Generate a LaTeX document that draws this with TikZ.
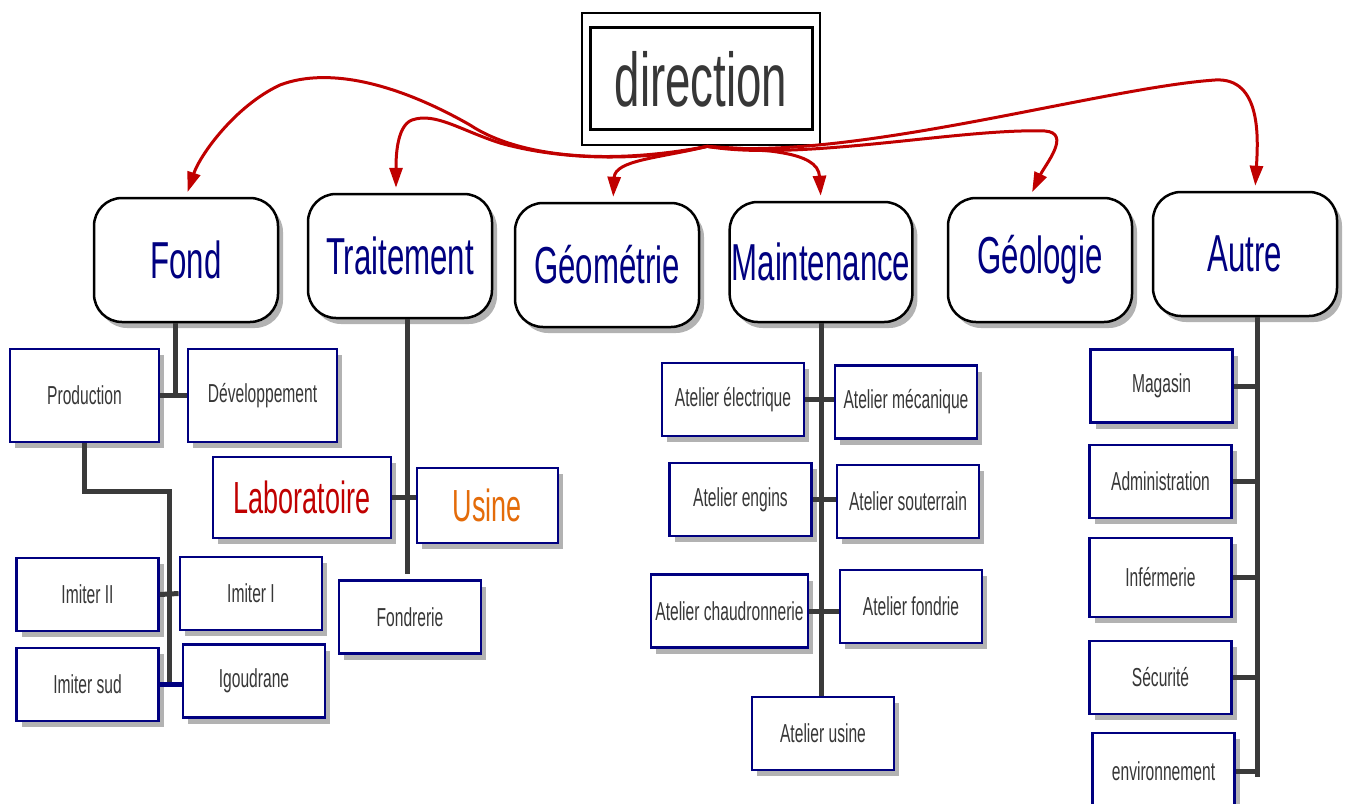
\documentclass[tikz,border=0pt]{standalone}
\usepackage{fontspec}
\setmainfont{Liberation Sans}[FakeStretch=0.6]
\usetikzlibrary{arrows.meta,shadows,calc}
\definecolor{boxblue}{RGB}{0,0,128}
\definecolor{linkgray}{RGB}{58,58,58}
\definecolor{arrred}{RGB}{192,0,0}
\definecolor{txtgray}{RGB}{55,55,55}
\definecolor{usineorange}{RGB}{228,108,10}
\begin{document}
\begin{tikzpicture}[x=1pt,y=-1pt,>={Triangle[length=20pt,width=13pt]},
    boxshadow/.style={drop shadow={shadow xshift=5pt,shadow yshift=-6pt,fill=black,opacity=.3}},
    headbox/.style={draw=black,line width=2.5pt,fill=white,rounded corners=28pt,minimum width=184pt,minimum height=124pt,inner sep=2pt,text=boxblue,font=\fontsize{52}{56}\selectfont,boxshadow},
    unitbox/.style={draw=boxblue,line width=2.8pt,fill=white,minimum width=142pt,minimum height=73pt,inner sep=2pt,text=txtgray,font=\fontsize{26}{30}\selectfont,boxshadow},
    linkline/.style={draw=linkgray,line width=5pt},
    dirarrow/.style={->,draw=arrred,line width=3pt,shorten >=5pt}]
    \useasboundingbox (0,0) rectangle (1346,803);\clip (0,0) rectangle (1346,803);
    \fill[white] (0,0) rectangle (1346,803);
    \node[draw,line width=2.8pt,fill=white,minimum width=238pt,minimum height=132pt,text=txtgray,font=\fontsize{76}{80}\selectfont] (dir) at (701,79) {direction};
    \draw[line width=2.8pt] ([shift={(10pt,-16pt)}]dir.north west) rectangle ([shift={(-9pt,17pt)}]dir.south east);
    \coordinate (src) at ([xshift=6pt]dir.south);
    \node[headbox] (fond) at (186,260) {Fond};
    \node[headbox] (trait) at (400,256) {Traitement};
    \node[headbox] (geom) at (607,265) {Géométrie};
    \node[headbox,minimum width=181pt,minimum height=120pt] (maint) at (821,262) {Maintenance};
    \node[headbox] (geol) at (1040,260) {Géologie};
    \node[headbox] (autre) at (1245,254) {Autre};
    \draw[dirarrow] (src) .. controls (610,165) and (520,158) .. (470,125) .. controls (400,85) and (330,66) .. (280,85) .. controls (235,106) and (200,155) .. (fond.north);
    \draw[dirarrow] (src) .. controls (640,162) and (560,160) .. (500,143) .. controls (460,130) and (435,112) .. (412,120) .. controls (396,126) and (396,160) .. ([xshift=-4pt]trait.north);
    \draw[dirarrow] (src) .. controls (660,158) and (615,160) .. ([xshift=6pt]geom.north);
    \draw[dirarrow] (src) .. controls (760,150) and (818,150) .. (maint.north);
    \draw[dirarrow] (src) .. controls (800,162) and (960,128) .. (1045,131) .. controls (1072,133) and (1045,165) .. ([xshift=-10pt]geol.north);
    \draw[dirarrow] (src) .. controls (850,162) and (1100,88) .. (1215,80) .. controls (1262,77) and (1258,140) .. ([xshift=10pt]autre.north);
    \node[unitbox,minimum width=149pt,minimum height=93pt] (prod) at (84.5,395.5) {Production};
    \node[unitbox,minimum width=149pt,minimum height=93pt] (dev) at (262.5,395.5) {Développement};
    \node[unitbox] (imII) at (87.5,594.5) {Imiter II};
    \node[unitbox] (imI) at (251,593.5) {Imiter I};
    \node[unitbox] (imsud) at (87.5,684.5) {Imiter sud};
    \node[unitbox] (igou) at (254,681) {Igoudrane};
    \node[unitbox,minimum width=178pt,minimum height=81pt,text=arrred,font=\fontsize{45}{50}\selectfont] (labo) at (302,497.5) {Laboratoire};
    \node[unitbox,minimum width=141pt,minimum height=75pt,text=usineorange,font=\fontsize{45}{50}\selectfont] (usine) at (487.5,505.5) {Usine};
    \node[unitbox] (fondr) at (410,617) {Fondrerie};
    \node[unitbox] (ael) at (733,399.5) {Atelier électrique};
    \node[unitbox] (amec) at (906,402) {Atelier mécanique};
    \node[unitbox] (aeng) at (740.5,499.5) {Atelier engins};
    \node[unitbox] (asout) at (908,501.5) {Atelier souterrain};
    \node[unitbox,minimum width=157pt] (achaud) at (729.5,611) {Atelier chaudronnerie};
    \node[unitbox] (afond) at (911,606.5) {Atelier fondrie};
    \node[unitbox] (ausine) at (823,733.5) {Atelier usine};
    \node[unitbox] (mag) at (1161.5,386) {Magasin};
    \node[unitbox] (admin) at (1160.5,481.5) {Administration};
    \node[unitbox,minimum height=79pt] (inf) at (1160.5,577.5) {Inférmerie};
    \node[unitbox] (secu) at (1160.5,677.5) {Sécurité};
    \node[unitbox,minimum height=77pt] (envir) at (1163.5,771.5) {environnement};
    \draw[linkline] ([xshift=-11pt]fond.south) -- ([xshift=-11pt]fond.south |- prod.east);\draw[linkline] (prod.east) -- (dev.west);
    \coordinate (fbus) at ($(imII.east)!.5!(imI.west)$);
    \draw[linkline] (prod.south) -- ++(0,48) -| (fbus) -- (fbus |- imsud.east);
    \draw[linkline] (imII.east) -- (imI.west);\draw[linkline,draw=boxblue] (imsud.east) -- (imsud.east -| igou.west);
    \draw[linkline,shorten >=5pt] ([xshift=7pt]trait.south) -- ([xshift=7pt]trait.south |- fondr.north);
    \draw[linkline] (labo.east) -- (labo.east -| usine.west);
    \draw[linkline] (maint.south) -- (maint.south |- ausine.north);
    \foreach \a/\b in {ael/amec,aeng/asout,achaud/afond}\draw[linkline] (\a.east) -- (\a.east -| \b.west);
    \coordinate (abus) at ([xshift=12pt]autre.south);
    \draw[linkline] (abus) -- ([yshift=-5pt]abus |- envir.east);
    \foreach \n in {mag,admin,inf,secu,envir}\draw[linkline] (\n.east) -- (\n.east -| abus);
\end{tikzpicture}
\end{document}
